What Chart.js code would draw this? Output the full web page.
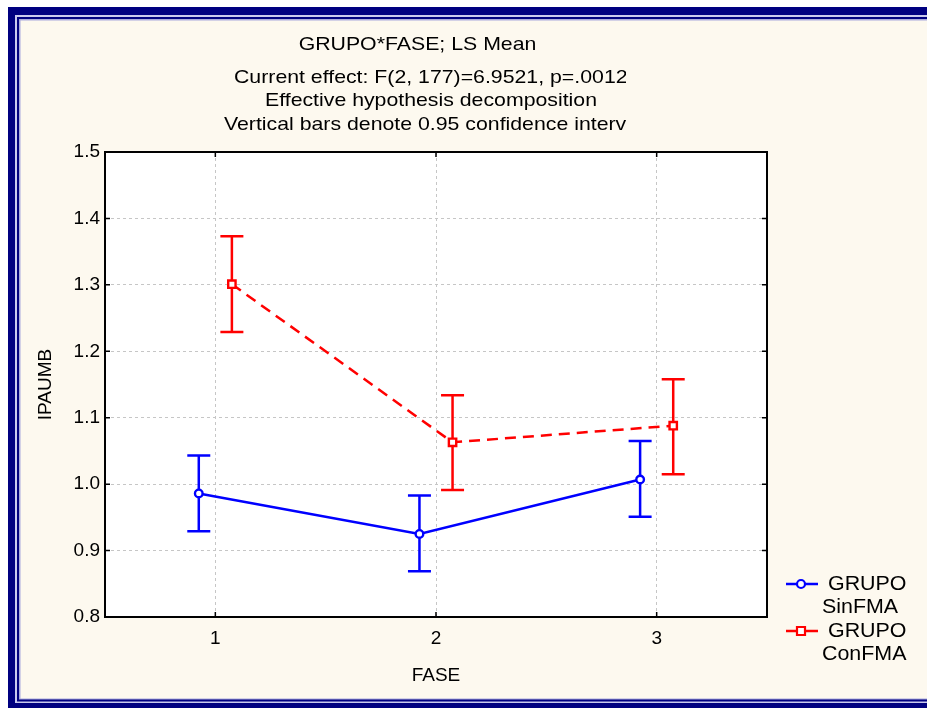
<!DOCTYPE html>
<html><head><meta charset="utf-8">
<script src="https://cdn.jsdelivr.net/npm/chart.js@4.4.1/dist/chart.umd.min.js"></script>
<style>html,body{margin:0;padding:0;background:#fff;overflow:hidden}#wrap{width:927px;height:708px}</style>
</head><body><div id="wrap"><canvas id="c" width="927" height="708"></canvas></div>
<script>
// ---- data ----
const fases = [1, 2, 3];
const sinMean = [0.986, 0.925, 1.007];
const sinLow  = [0.929, 0.869, 0.951];
const sinHigh = [1.043, 0.983, 1.065];
const conMean = [1.301, 1.063, 1.088];
const conLow  = [1.229, 0.991, 1.015];
const conHigh = [1.373, 1.134, 1.158];
const xTicks = [1, 2, 3];
const yTicks = [0.8, 0.9, 1.0, 1.1, 1.2, 1.3, 1.4, 1.5];
const titleLines = ["GRUPO*FASE; LS Mean",
  "Current effect: F(2, 177)=6.9521, p=.0012",
  "Effective hypothesis decomposition",
  "Vertical bars denote 0.95 confidence intervals"];
const groupNames = [["GRUPO", "SinFMA"], ["GRUPO", "ConFMA"]];
const xTitle = "FASE";
const yTitle = "IPAUMB";

// ---- styling ----
const FONT = "'Liberation Sans', Arial, sans-serif";
const BLUE = '#0000ff', RED = '#ff0000', NAVY = '#000080', CREAM = '#fdf9ef';
const dodge = 0.075;

Chart.defaults.font.family = FONT;
Chart.defaults.color = '#000';

const series = [
  {name: groupNames[0], mean: sinMean, low: sinLow, high: sinHigh, color: BLUE, off: -dodge, dash: [], style: 'circle', r: 3.8},
  {name: groupNames[1], mean: conMean, low: conLow, high: conHigh, color: RED, off: dodge, dash: [11, 7], style: 'rect', r: 5.2}
];

function stretchText(ctx, text, x, y, sx, align) {
  ctx.save();
  ctx.translate(x, y);
  ctx.scale(sx, 1);
  ctx.textAlign = align;
  ctx.fillText(text, 0, 0);
  ctx.restore();
}

const bgPlugin = {
  id: 'bg',
  beforeDraw(chart) {
    const {ctx, chartArea: a} = chart;
    ctx.save();
    ctx.fillStyle = '#ffffff'; ctx.fillRect(0, 0, 927, 708);
    ctx.fillStyle = NAVY; ctx.fillRect(8, 7, 1000, 1000);
    ctx.fillStyle = '#c9c9ee'; ctx.fillRect(15, 15, 1000, 688);
    ctx.fillStyle = NAVY; ctx.fillRect(17, 17, 1000, 684.5);
    ctx.fillStyle = '#a8a8dc'; ctx.fillRect(19, 19, 1000, 680.5);
    ctx.fillStyle = CREAM; ctx.fillRect(20.5, 20.5, 1000, 678);
    ctx.fillStyle = '#ffffff'; ctx.fillRect(a.left, a.top, a.right - a.left, a.bottom - a.top);
    ctx.restore();
  }
};

const errPlugin = {
  id: 'err',
  beforeDatasetsDraw(chart) {
    const {ctx, scales: {x, y}, chartArea: a} = chart;
    ctx.save();
    ctx.beginPath(); ctx.rect(a.left, a.top, a.right - a.left, a.bottom - a.top); ctx.clip();
    ctx.lineWidth = 2.5; ctx.setLineDash([]); ctx.lineCap = 'butt';
    series.forEach(s => {
      ctx.strokeStyle = s.color;
      fases.forEach((f, i) => {
        const px = x.getPixelForValue(f + s.off);
        const pt = y.getPixelForValue(s.high[i]);
        const pb = y.getPixelForValue(s.low[i]);
        ctx.beginPath();
        ctx.moveTo(px, pt); ctx.lineTo(px, pb);
        ctx.moveTo(px - 11.5, pt); ctx.lineTo(px + 11.5, pt);
        ctx.moveTo(px - 11.5, pb); ctx.lineTo(px + 11.5, pb);
        ctx.stroke();
      });
    });
    ctx.restore();
  }
};

const framePlugin = {
  id: 'frame',
  afterDraw(chart) {
    const {ctx, chartArea: a, scales: {x, y}} = chart;
    ctx.save();
    ctx.strokeStyle = '#000'; ctx.lineWidth = 2; ctx.setLineDash([]);
    ctx.strokeRect(a.left, a.top, a.right - a.left, a.bottom - a.top);
    ctx.lineWidth = 1.5;
    ctx.beginPath();
    yTicks.forEach(v => {
      const py = y.getPixelForValue(v);
      ctx.moveTo(a.left, py); ctx.lineTo(a.left + 5, py);
      ctx.moveTo(a.right, py); ctx.lineTo(a.right - 5, py);
    });
    xTicks.forEach(v => {
      const px = x.getPixelForValue(v);
      ctx.moveTo(px, a.bottom); ctx.lineTo(px, a.bottom - 5);
      ctx.moveTo(px, a.top); ctx.lineTo(px, a.top + 5);
    });
    ctx.stroke();

    // titles (clipped at the right like the reference)
    ctx.save();
    ctx.beginPath(); ctx.rect(0, 0, 626, 708); ctx.clip();
    ctx.fillStyle = '#000';
    ctx.font = '19px ' + FONT;
    ctx.textBaseline = 'middle';
    stretchText(ctx, titleLines[0], 417.5, 45, 1.12, 'center');
    stretchText(ctx, titleLines[1], 234, 78, 1.12, 'left');
    stretchText(ctx, titleLines[2], 265, 101, 1.12, 'left');
    stretchText(ctx, titleLines[3], 224, 124.5, 1.12, 'left');
    ctx.restore();

    // legend
    const rows = [584, 631];
    series.forEach((s, k) => {
      const ly = rows[k];
      ctx.strokeStyle = s.color; ctx.lineWidth = 2.5; ctx.setLineDash([]);
      ctx.beginPath(); ctx.moveTo(786, ly); ctx.lineTo(818, ly); ctx.stroke();
      ctx.fillStyle = '#fff'; ctx.lineWidth = 2.2;
      ctx.beginPath();
      if (s.style === 'circle') ctx.arc(801, ly, 4, 0, Math.PI * 2);
      else ctx.rect(797, ly - 4, 8, 8);
      ctx.fill(); ctx.stroke();
      ctx.fillStyle = '#000';
      ctx.font = '20px ' + FONT;
      ctx.textBaseline = 'middle';
      stretchText(ctx, s.name[0], 828, ly, 1.07, 'left');
      stretchText(ctx, s.name[1], 822, ly + 23, 1.07, 'left');
    });
    ctx.restore();
  }
};

new Chart(document.getElementById('c'), {
  type: 'line',
  data: {
    datasets: series.map(s => ({
      label: s.name.join(' '),
      data: fases.map((f, i) => ({x: f + s.off, y: s.mean[i]})),
      borderColor: s.color,
      borderWidth: 2.5,
      borderDash: s.dash,
      backgroundColor: '#ffffff',
      pointStyle: s.style,
      pointRadius: s.r,
      pointBorderWidth: 2.4,
      pointBackgroundColor: '#ffffff',
      pointBorderColor: s.color,
      tension: 0,
      fill: false
    }))
  },
  options: {
    responsive: false,
    animation: false,
    devicePixelRatio: 1,
    layout: {padding: {left: 0, top: 152, right: 160, bottom: 0}},
    plugins: {legend: {display: false}, tooltip: {enabled: false}, title: {display: false}},
    scales: {
      x: {
        type: 'linear', min: 0.5, max: 3.5,
        afterBuildTicks: s => { s.ticks = xTicks.map(v => ({value: v})); },
        afterFit: s => { s.height = 91; },
        grid: {color: '#c6c6c6', lineWidth: 1, drawTicks: false},
        border: {display: false, dash: [3, 3]},
        ticks: {padding: 10, color: '#000', font: {size: 19}, callback: v => String(v)},
        title: {display: true, text: xTitle, color: '#000', font: {size: 19}, padding: {top: 0, bottom: 21}}
      },
      y: {
        type: 'linear', min: 0.8, max: 1.5,
        afterBuildTicks: s => { s.ticks = yTicks.map(v => ({value: v})); },
        afterFit: s => { s.width = 105; },
        grid: {color: '#c6c6c6', lineWidth: 1, drawTicks: false},
        border: {display: false, dash: [3, 3]},
        ticks: {padding: 5, color: '#000', font: {size: 19}, callback: v => Number(v).toFixed(1)},
        title: {display: true, text: yTitle, color: '#000', font: {size: 19}, padding: {top: 34, bottom: 0}}
      }
    }
  },
  plugins: [bgPlugin, errPlugin, framePlugin]
});
</script></body></html>
